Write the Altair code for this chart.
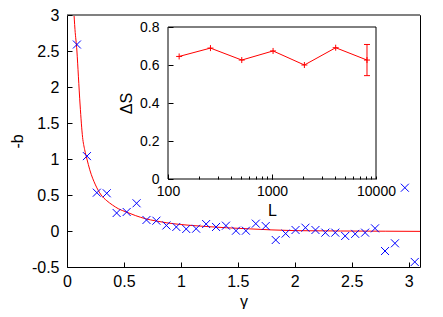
import altair as alt
import pandas as pd

# ---- main panel data ----
gamma = [0.087, 0.175, 0.262, 0.349, 0.436, 0.524, 0.611, 0.698, 0.785, 0.873,
         0.960, 1.047, 1.134, 1.222, 1.309, 1.396, 1.484, 1.571, 1.658, 1.745,
         1.833, 1.920, 2.007, 2.094, 2.182, 2.269, 2.356, 2.443, 2.531, 2.618,
         2.705, 2.793, 2.880, 2.967, 3.054]
neg_b = [2.59, 1.04, 0.532, 0.524, 0.25, 0.264, 0.385, 0.153, 0.143, 0.077,
         0.056, 0.028, 0.032, 0.097, 0.056, 0.074, 0.004, 0.004, 0.102, 0.069,
         -0.125, -0.036, 0.014, 0.046, 0.014, -0.023, -0.023, -0.069, -0.04, -0.023,
         0.037, -0.278, -0.171, 0.601, -0.43]

fit_gamma = [0.058, 0.07, 0.087, 0.1, 0.115, 0.137, 0.155, 0.175, 0.2, 0.25, 0.3,
             0.35, 0.4, 0.45, 0.52, 0.6, 0.69, 0.78, 0.87, 1.0, 1.2, 1.4, 1.6,
             1.8, 2.0, 2.4, 2.8, 3.1]
fit_val = [3.1, 2.8, 2.5, 2.15, 1.75, 1.3, 1.13, 1.0, 0.85, 0.64, 0.5, 0.42, 0.36,
           0.31, 0.264, 0.215, 0.17, 0.14, 0.115, 0.09, 0.065, 0.045, 0.03, 0.015,
           0.005, 0.0, -0.003, -0.005]

x_ticks = [0, 0.5, 1, 1.5, 2, 2.5, 3]
y_ticks = [-0.5, 0, 0.5, 1, 1.5, 2, 2.5, 3]
x_dom = [0, 3.1]
y_dom = [-0.5, 3]

# ---- inset data ----
L = [128, 256, 512, 1024, 2048, 4096, 8192]
dS = [0.645, 0.689, 0.626, 0.674, 0.600, 0.691, 0.626]
dS_err = [0, 0, 0, 0, 0, 0, 0.082]
L_ticks = [100, 200, 300, 400, 500, 600, 700, 800, 900, 1000,
           2000, 3000, 4000, 5000, 6000, 7000, 8000, 9000, 10000]
L_major = [100, 1000]
dS_ticks = [0, 0.2, 0.4, 0.6, 0.8]
L_dom = [100, 10000]
dS_dom = [0, 0.8]

W, H = 353, 252
INSET_X = [101, 309]
INSET_Y = [164, 12]
FONT = "Liberation Sans"

pts = pd.DataFrame({"g": gamma, "b": neg_b})
fit = pd.DataFrame({"g": fit_gamma, "b": fit_val})
ins = pd.DataFrame({"L": L, "S": dS, "lo": [s - e for s, e in zip(dS, dS_err)],
                    "hi": [s + e for s, e in zip(dS, dS_err)], "e": dS_err})
frame_df = pd.DataFrame({"x": [L_dom[0]], "x2": [L_dom[1]], "y": [dS_dom[0]], "y2": [dS_dom[1]]})
top_df = pd.DataFrame({"y": [y_dom[1]]})

xs = alt.Scale(domain=x_dom, nice=False, zero=False)
ys = alt.Scale(domain=y_dom, nice=False, zero=False)

x_axis = alt.Axis(orient="bottom", values=x_ticks, labelExpr="toString(datum.value)",
                  tickSize=5, offset=-5, labelPadding=6, title="γ", titlePadding=4,
                  labelFontSize=16, titleFontSize=16, zindex=2, labelFlush=False)
y_axis = alt.Axis(orient="left", values=y_ticks, labelExpr="toString(datum.value)",
                  tickSize=5, offset=-5, labelPadding=8, title="-b", titlePadding=6,
                  labelFontSize=16, titleFontSize=16, zindex=2, labelFlush=False)

curve = alt.Chart(fit).mark_line(color="#ff0000", strokeWidth=1, clip=True,
                                  interpolate="monotone").encode(
    x=alt.X("g:Q", scale=xs, axis=x_axis),
    y=alt.Y("b:Q", scale=ys, axis=y_axis),
)
points = alt.Chart(pts).mark_point(shape="M-1,-1L1,1M-1,1L1,-1", size=64, filled=False,
                                   color="#0000ff", strokeWidth=1, opacity=1,
                                   clip=True).encode(
    x=alt.X("g:Q", scale=xs, axis=x_axis),
    y=alt.Y("b:Q", scale=ys, axis=y_axis),
)
top_rule = alt.Chart(top_df).mark_rule(color="#808080", strokeWidth=2).encode(
    y=alt.Y("y:Q", scale=ys, axis=y_axis)
)
main = alt.layer(curve, points, top_rule)

ixs = alt.Scale(type="log", domain=L_dom, range=INSET_X, nice=False)
iys = alt.Scale(domain=dS_dom, range=INSET_Y, nice=False, zero=False)

ix_axis = alt.Axis(orient="bottom", values=L_ticks,
                   labelExpr="indexof([100,1000,10000], datum.value) >= 0 ? toString(datum.value) : ''",
                   tickSize=3, offset=(INSET_Y[0] - 3) - H, labelPadding=5,
                   title="L", titlePadding=4, labelFontSize=14, titleFontSize=16,
                   zindex=2, labelFlush=False)
ix_axis_major = alt.Axis(orient="bottom", values=L_major, labels=False, title=None,
                         tickSize=5, offset=(INSET_Y[0] - 5) - H, zindex=2)
iy_axis = alt.Axis(orient="left", values=dS_ticks, labelExpr="toString(datum.value)",
                   tickSize=5, offset=-(INSET_X[0] + 5), labelPadding=9,
                   title="ΔS", titlePadding=5, labelFontSize=14, titleFontSize=16,
                   zindex=2, labelFlush=False)

frame = alt.Chart(frame_df).mark_rect(fill="white", stroke="black", strokeWidth=1).encode(
    x=alt.X("x:Q", scale=ixs, axis=ix_axis_major), x2="x2:Q",
    y=alt.Y("y:Q", scale=iys, axis=iy_axis), y2="y2:Q",
)
iline = alt.Chart(ins).mark_line(color="#ff0000", strokeWidth=1).encode(
    x=alt.X("L:Q", scale=ixs, axis=ix_axis),
    y=alt.Y("S:Q", scale=iys, axis=iy_axis),
)
imark = alt.Chart(ins).mark_point(shape="M-1,0L1,0M0,-1L0,1", size=36, filled=False,
                                  color="#ff0000", strokeWidth=1, opacity=1).encode(
    x=alt.X("L:Q", scale=ixs, axis=None),
    y=alt.Y("S:Q", scale=iys, axis=iy_axis),
)
ierr = alt.Chart(ins).transform_filter("datum.e > 0").mark_rule(
    color="#ff0000", strokeWidth=1).encode(
    x=alt.X("L:Q", scale=ixs, axis=None),
    y=alt.Y("lo:Q", scale=iys, axis=iy_axis), y2="hi:Q",
)
icap_lo = alt.Chart(ins).transform_filter("datum.e > 0").mark_point(
    shape="M-1,0L1,0", size=36, filled=False, color="#ff0000", strokeWidth=1,
    opacity=1).encode(
    x=alt.X("L:Q", scale=ixs, axis=None),
    y=alt.Y("lo:Q", scale=iys, axis=iy_axis),
)
icap_hi = alt.Chart(ins).transform_filter("datum.e > 0").mark_point(
    shape="M-1,0L1,0", size=36, filled=False, color="#ff0000", strokeWidth=1,
    opacity=1).encode(
    x=alt.X("L:Q", scale=ixs, axis=None),
    y=alt.Y("hi:Q", scale=iys, axis=iy_axis),
)
inset = alt.layer(frame, iline, imark, ierr, icap_lo, icap_hi).resolve_axis(x="independent")

chart = alt.layer(main, inset).resolve_scale(
    x="independent", y="independent"
).resolve_axis(
    x="independent", y="independent"
).properties(
    width=W, height=H,
    autosize=alt.AutoSizeParams(type="none"),
    padding={"left": 59, "top": 7, "right": 15, "bottom": 42},
).configure_view(
    stroke="black", strokeWidth=1
).configure_axis(
    labelFont=FONT, titleFont=FONT, labelColor="black", titleColor="black",
    tickColor="black", tickWidth=1, domain=False, grid=False,
    titleFontWeight="normal",
)

chart.save("out.html", embed_options={"renderer": "svg", "actions": False})
